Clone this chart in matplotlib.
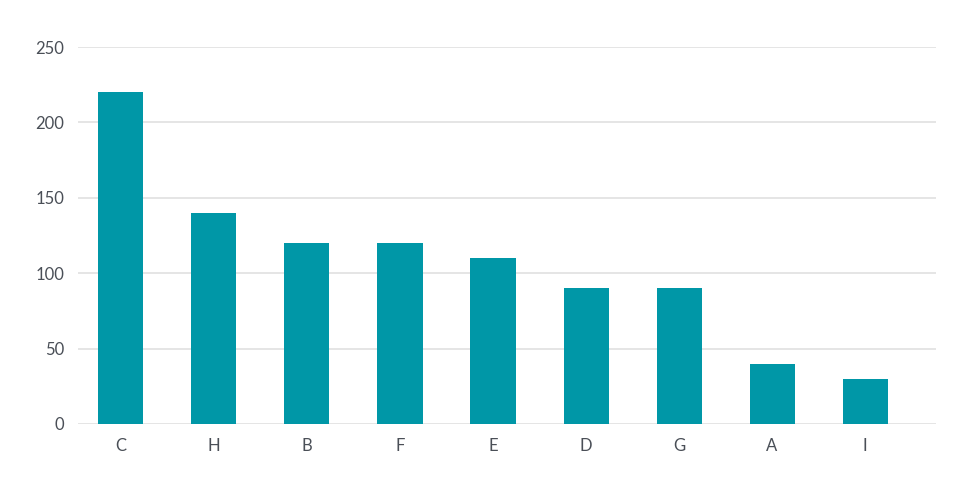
import matplotlib.pyplot as plt

plt.rcParams['font.family'] = ['Lato', 'DejaVu Sans']

categories = ['C', 'H', 'B', 'F', 'E', 'D', 'G', 'A', 'I']
values = [220, 140, 120, 120, 110, 90, 90, 40, 30]
yticks = [0, 50, 100, 150, 200, 250]

bar_color = '#0097A7'
text_color = '#4a4f57'
grid_color = '#e0e0e0'

fig = plt.figure(figsize=(9.73, 4.8), dpi=100)
ax = fig.add_axes([78 / 973, 1 - 424 / 480, (936 - 78) / 973, (424 - 47) / 480])

x = list(range(len(categories)))
ax.bar(x, values, width=0.484, color=bar_color, zorder=3)

ax.set_xlim(-0.462, len(categories) - 1 + 0.763)
ax.set_ylim(0, 250)
ax.set_yticks(yticks)
ax.set_xticks(x)
ax.set_xticklabels(categories)

ax.grid(axis='y', color=grid_color, linewidth=1.2, zorder=0)
for s in ax.spines.values():
    s.set_visible(False)
ax.tick_params(axis='both', length=0, labelsize=12, colors=text_color)
ax.tick_params(axis='y', pad=10)
ax.tick_params(axis='x', pad=10)

fig.savefig('out.png', dpi=100)
